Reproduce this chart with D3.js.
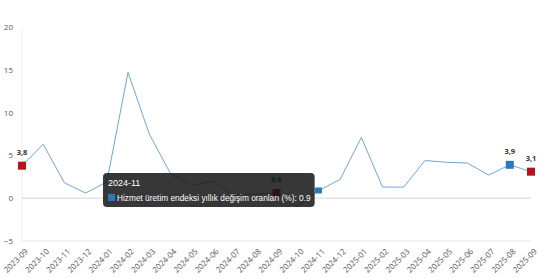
<!DOCTYPE html>
<meta charset="utf-8">
<style>
body { margin: 0; background: #fff; }
.axis text { font: 8px "Open Sans", sans-serif; fill: #555; }
.lbl { font: bold 7.5px "Open Sans", sans-serif; fill: #333; }
.tip text { font: 8.3px "Liberation Sans", Arial, sans-serif; fill: #fff; }
</style>
<svg width="540" height="278"></svg>
<script src="https://cdn.jsdelivr.net/npm/d3@7"></script>
<script>

// months on the x axis
const months = ["2023-09","2023-10","2023-11","2023-12","2024-01","2024-02","2024-03","2024-04",
  "2024-05","2024-06","2024-07","2024-08","2024-09","2024-10","2024-11","2024-12","2025-01",
  "2025-02","2025-03","2025-04","2025-05","2025-06","2025-07","2025-08","2025-09"];

// Hizmet üretim endeksi yıllık değişim oranları (%)
const values = [3.8, 6.3, 1.8, 0.6, 1.9, 14.7, 7.5, 2.9, 1.5, 2.0, 0.3, 0.5, 0.6, -1.0, 0.9,
  2.2, 7.1, 1.3, 1.3, 4.4, 4.2, 4.1, 2.7, 3.9, 3.1];

const yTicks = [-5, 0, 5, 10, 15, 20];

// highlighted points: [month, color]
const marked = [["2023-09", "#b5121b"], ["2024-09", "#b5121b"], ["2025-08", "#2f78b8"], ["2025-09", "#b5121b"]];
const hoverMonth = "2024-11";
const seriesName = "Hizmet üretim endeksi yıllık değişim oranları (%)";

var svg = d3.select("svg");
var data = months.map((m, i) => ({month: m, value: values[i]}));

var x = d3.scalePoint().domain(months).range([22, 531]);
var y = d3.scaleLinear().domain([-5, 20]).range([241, 27]);

// left axis line + baseline
svg.append("line").attr("x1", 22).attr("x2", 22).attr("y1", y(20)).attr("y2", y(-5))
    .attr("stroke", "#eee");
svg.append("line").attr("x1", 22).attr("x2", 531).attr("y1", y(-5)).attr("y2", y(-5))
    .attr("stroke", "#e6e6e6");
svg.append("line").attr("x1", 22).attr("x2", 531).attr("y1", y(0)).attr("y2", y(0))
    .attr("stroke", "#e3e3e3").attr("stroke-width", 1.5);

var ya = svg.append("g").attr("class", "axis")
    .attr("transform", "translate(13,0)")
    .call(d3.axisLeft(y).tickValues(yTicks).tickSize(0).tickPadding(0));
ya.select(".domain").remove();

var xa = svg.append("g").attr("class", "axis")
    .attr("transform", "translate(0," + 246 + ")")
    .call(d3.axisBottom(x).tickSize(0).tickPadding(0));
xa.select(".domain").remove();
xa.selectAll("text")
    .attr("text-anchor", "end")
    .attr("dy", "0.35em")
    .attr("transform", "translate(4,4) rotate(-45)");

svg.append("path").datum(data)
    .attr("fill", "none")
    .attr("stroke", "#6ea6d8")
    .attr("stroke-width", 1)
    .attr("d", d3.line().x(d => x(d.month)).y(d => y(d.value)));

var byMonth = new Map(data.map(d => [d.month, d.value]));

// hover marker
svg.append("rect")
    .attr("x", x(hoverMonth) - 4).attr("y", y(byMonth.get(hoverMonth)) - 3)
    .attr("width", 7).attr("height", 6).attr("fill", "#2f78b8");

marked.forEach(([m, c]) => {
  var v = byMonth.get(m);
  svg.append("rect")
    .attr("x", x(m) - 4).attr("y", y(v) - 4)
    .attr("width", 8).attr("height", 8)
    .attr("fill", c);
  svg.append("text").attr("class", "lbl")
    .attr("x", x(m)).attr("y", y(v) - 11)
    .attr("text-anchor", "middle")
    .text(String(v).replace(".", ","));
});

// tooltip
var tip = svg.append("g").attr("class", "tip");
var box = tip.append("rect")
    .attr("x", 103).attr("y", 173).attr("height", 34).attr("rx", 4)
    .attr("fill", "rgba(20,20,20,0.85)");
tip.append("text").attr("x", 108).attr("y", 186)
    .attr("font-weight", "bold").style("font-size", "9px").text(hoverMonth);
tip.append("rect").attr("x", 108).attr("y", 194).attr("width", 7).attr("height", 7)
    .attr("fill", "#2f78b8");
var t = tip.append("text").attr("x", 117).attr("y", 201)
    .text(seriesName + ": " + byMonth.get(hoverMonth));
box.attr("width", 117 + t.node().getComputedTextLength() + 4 - 103);

</script>
